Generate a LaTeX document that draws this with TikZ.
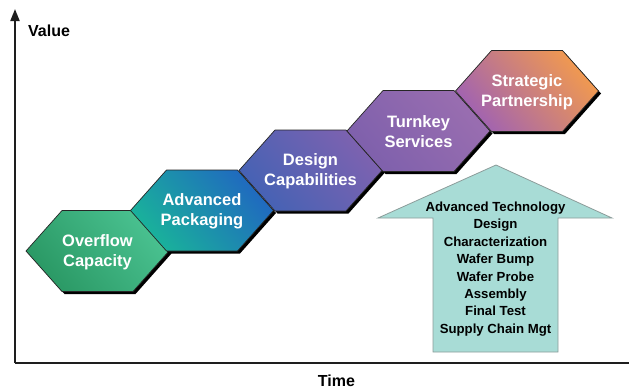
\documentclass[tikz,border=0pt]{standalone}
\usepackage{fontspec}
\setmainfont{Liberation Sans}
\usetikzlibrary{arrows.meta}
\definecolor{hAa}{HTML}{2A9864}
\definecolor{hAm}{HTML}{38AE7C}
\definecolor{hAb}{HTML}{4AC291}
\definecolor{hBa}{HTML}{19B39A}
\definecolor{hBm}{HTML}{0E98B0}
\definecolor{hBb}{HTML}{2068C0}
\definecolor{hCa}{HTML}{4562B4}
\definecolor{hCm}{HTML}{5E5FB2}
\definecolor{hCb}{HTML}{7E62B0}
\definecolor{hDa}{HTML}{7E60AC}
\definecolor{hDm}{HTML}{8C66AE}
\definecolor{hDb}{HTML}{9A6EB0}
\definecolor{hEa}{HTML}{A062B2}
\definecolor{hEm}{HTML}{E274B2}
\definecolor{hEb}{HTML}{F29A4E}
\definecolor{arrowfill}{HTML}{A8DCD6}
\definecolor{arrowline}{HTML}{8C9C9A}
\definecolor{axiscol}{HTML}{1E1E1E}
\newcommand\hexshape[2]{(#1-71.5,#2) -- (#1-35.5,#2-40.5) -- (#1+35.5,#2-40.5) -- (#1+71.5,#2) -- (#1+35.5,#2+40.5) -- (#1-35.5,#2+40.5) -- cycle}
\begin{document}
\begin{tikzpicture}[x=1pt,y=-1pt,
  axisline/.style={draw=axiscol,line width=2pt},
  axislabel/.style={font=\bfseries\fontsize{16}{19}\selectfont,text=black,inner sep=0pt},
  hextext/.style={font=\bfseries\fontsize{16.5}{20}\selectfont,text=white,align=center,inner sep=0pt},
  hexedge/.style={draw=black!85,line width=0.7pt},
  listtext/.style={font=\bfseries\fontsize{13.2}{17.4}\selectfont,text=black,align=center,inner sep=0pt},
  bigarrow/.style={fill=arrowfill,draw=arrowline,line width=0.8pt,line join=miter}]
\useasboundingbox (0,0) rectangle (629,389);
% axes
\coordinate (origin) at (15,363);
\coordinate (ytop) at (15,9);
\coordinate (xend) at (629,363);
\draw[axisline,-{Triangle[length=12pt,width=9pt]}] (origin) -- (ytop);
\draw[axisline] (origin) -- (xend);
\node[axislabel,anchor=west] (valuelabel) at (28,31) {Value};
\node[axislabel] (timelabel) at (336.5,380.5) {Time};
% hexagons
\foreach \cx/\cy/\ca/\cm/\cb/\txt/\nm in {
  97.5/251/hAa/hAm/hAb/{Overflow\\Capacity}/hexA,
  202/210.5/hBa/hBm/hBb/{Advanced\\Packaging}/hexB,
  310.5/170.5/hCa/hCm/hCb/{Design\\Capabilities}/hexC,
  418.5/131/hDa/hDm/hDb/{Turnkey\\Services}/hexD,
  527/91/hEa/hEm/hEb/{Strategic\\Partnership}/hexE}{
  \fill[black,shift={(2.5,2.5)}] \hexshape{\cx}{\cy};
  \shade[hexedge,top color=\cb,middle color=\cm,bottom color=\ca,shading angle=-50] \hexshape{\cx}{\cy};
  \node[hextext] (\nm) at (\cx,\cy+1) {\txt};
}
% big arrow
\draw[bigarrow] (496,165) -- (612,218) -- (558,218) -- (558,352) -- (433,352) -- (433,218) -- (378,218) -- cycle;
\node[listtext] (services) at (495.5,269) {Advanced Technology\\Design\\Characterization\\Wafer Bump\\Wafer Probe\\Assembly\\Final Test\\Supply Chain Mgt};
\end{tikzpicture}
\end{document}
